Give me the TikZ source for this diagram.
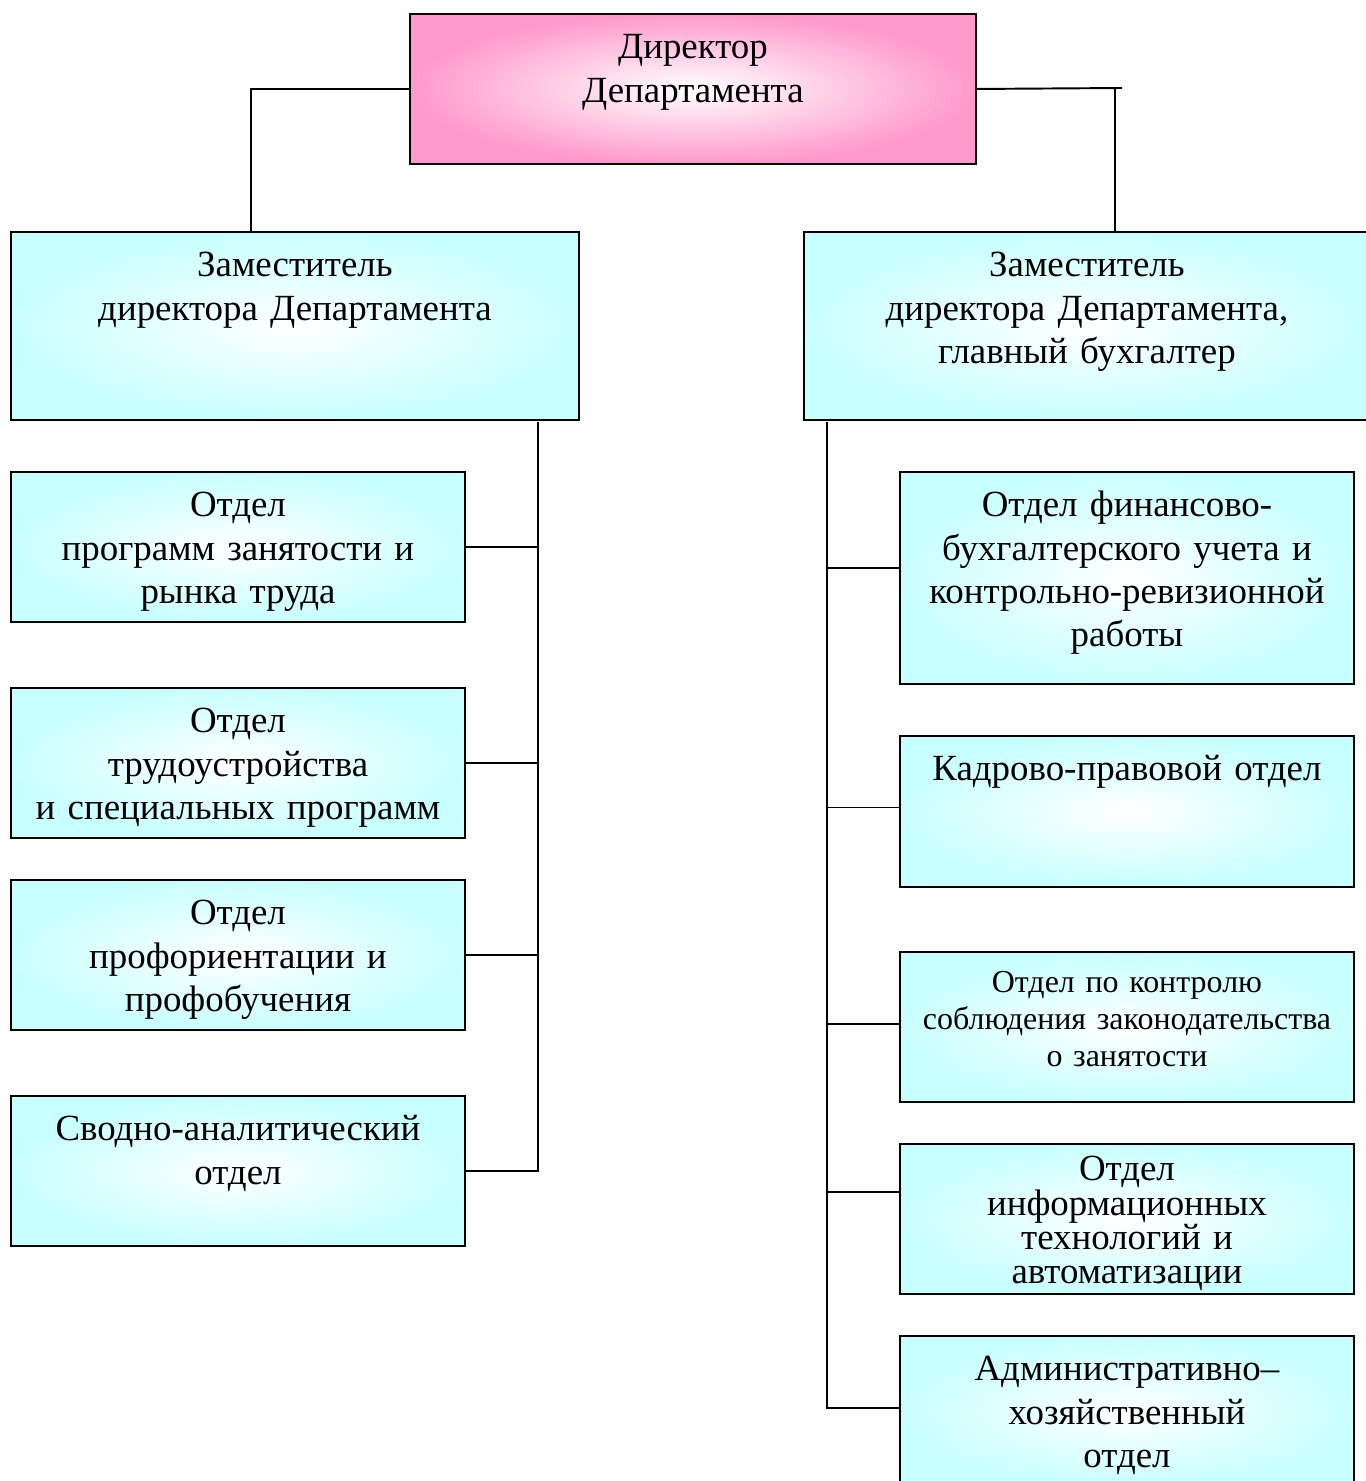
\documentclass[tikz,border=0pt]{standalone}
\usepackage{fontspec}
\setmainfont{Liberation Serif}
\newdimen\pxu \pxu=0.02cm
\lineskiplimit=-10pt
\definecolor{cyanbox}{HTML}{C8FFFF}
\definecolor{pinkbox}{HTML}{FF99CC}
\begin{document}
\begin{tikzpicture}[x=0.02cm,y=-0.02cm]
\tikzset{
  box/.style={draw,line width=1.1pt,shade,inner color=white,outer color=cyanbox,
    anchor=north west,inner sep=0pt,align=center,
    font=\fontsize{21}{24.5}\selectfont,text height=45\pxu,text depth=105\pxu},
  edgeu/.style={-,line width=1.1pt}
}
\useasboundingbox (0,0) rectangle (1366,1481);

% директор (розовый блок сверху)
\node[box,outer color=pinkbox,text width=566\pxu] (dir) at (409,13) {Директор\\Департамента};

% заместители
\node[box,text width=568\pxu,text depth=143\pxu] (depL) at (10,231) {Заместитель\\директора Департамента};
\node[box,text width=566\pxu,text depth=143\pxu] (depR) at (803,231) {Заместитель\\директора Департамента,\\главный бухгалтер};

% отделы слева
\node[box,text width=454\pxu] (L1) at (10,471)  {Отдел\\программ занятости и\\рынка труда};
\node[box,text width=454\pxu] (L2) at (10,687)  {Отдел\\трудоустройства\\и специальных программ};
\node[box,text width=454\pxu] (L3) at (10,879)  {Отдел\\профориентации и\\профобучения};
\node[box,text width=454\pxu] (L4) at (10,1095) {Сводно-аналитический\\отдел};

% отделы справа
\node[box,text width=454\pxu,text depth=167\pxu] (R1) at (899,471) {Отдел финансово-\\бухгалтерского учета и\\контрольно-ревизионной\\работы};
\node[box,text width=454\pxu,text depth=106\pxu] (R2) at (899,735) {Кадрово-правовой отдел};
\node[box,text width=454\pxu,font=\fontsize{18.2}{21}\selectfont,text height=41\pxu,text depth=109\pxu] (R3) at (899,951) {Отдел по контролю\\соблюдения законодательства\\о занятости};
\node[box,text width=454\pxu,font=\fontsize{21}{19.4}\selectfont,text height=37\pxu,text depth=113\pxu] (R4) at (899,1143) {Отдел\\информационных\\технологий и\\автоматизации};
\node[box,text width=454\pxu] (R5) at (899,1335) {Административно–\\хозяйственный\\отдел};

% директор -- заместители
\draw[edgeu] (dir.west) -| ([xshift=-44\pxu]depL.north);
\coordinate (tR) at (1115,88);
\draw[edgeu] (dir.east) -- ([xshift=7\pxu]tR);
\draw[edgeu] (tR) -- (tR |- depR.north);

% шины и отводы к отделам
\coordinate (busL) at (538,422);
\coordinate (busR) at (827,422);
\draw[edgeu] (busL) |- (L4.east);
\foreach \n in {L1,L2,L3}
  \draw[edgeu] (\n.east) -- (\n.east -| busL);
\draw[edgeu] (busR) |- ([yshift=3\pxu]R5.west);
\foreach \n/\dy in {R1/10,R2/4,R3/3,R4/27}
  \draw[edgeu] ([yshift=\dy\pxu]\n.west) -- ([yshift=\dy\pxu]\n.west -| busR);
\end{tikzpicture}
\end{document}
